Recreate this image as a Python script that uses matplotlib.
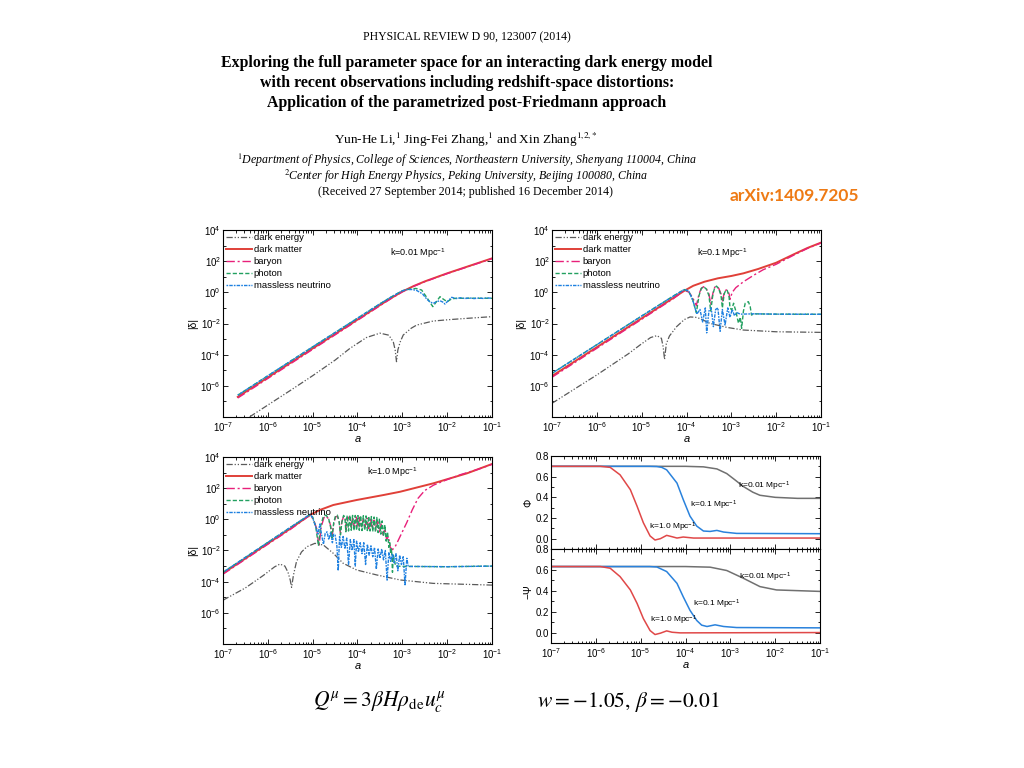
import numpy as np
import matplotlib
matplotlib.use("Agg")
import matplotlib.pyplot as plt
from matplotlib.ticker import FixedLocator, LogLocator, LogFormatterSciNotation, NullFormatter, MultipleLocator

plt.rcParams['font.family'] = ['Liberation Sans', 'DejaVu Sans']
plt.rcParams['mathtext.fontset'] = 'custom'
plt.rcParams['mathtext.rm'] = 'Liberation Sans'
plt.rcParams['mathtext.it'] = 'Liberation Sans:italic'
plt.rcParams['mathtext.bf'] = 'Liberation Sans:bold'

# ---------------- data (log10 a, log10 |delta|) ----------------
# k = 0.01 Mpc^-1
tl_de_x = [-6.67, -6.4, -5.5, -5.0, -4.5, -4.17, -3.8, -3.5, -3.3, -3.2, -3.16, -3.13, -3.1, -3.05, -2.98, -2.8, -2.68, -2.31, -1.9, -1.56, -1.0]
tl_de_y = [-8.5, -7.98, -6.3, -5.35, -4.35, -3.6, -2.9, -2.62, -2.75, -3.2, -3.7, -4.45, -3.7, -3.2, -2.74, -2.3, -2.1, -1.84, -1.74, -1.67, -1.56]
tl_dm_x = [-6.67, -5.0, -4.0, -3.5, -3.25, -3.0, -2.75, -2.5, -2.0, -1.5, -1.0]
tl_dm_y = [-6.71, -3.6, -1.75, -0.82, -0.37, 0.05, 0.4, 0.7, 1.22, 1.7, 2.18]
tl_ba_x = [-6.67, -5.0, -4.0, -3.5, -3.25, -3.0, -2.75, -2.5, -2.0, -1.5, -1.0]
tl_ba_y = [-6.78, -3.66, -1.8, -0.86, -0.4, 0.03, 0.38, 0.68, 1.2, 1.68, 2.16]
tl_ph_x = [-6.67, -5.0, -4.0, -3.5, -3.25, -3.0, -2.85, -2.7, -2.57, -2.45, -2.32, -2.24, -2.16, -2.08, -2.0, -1.9, -1.8, -1.5, -1.0]
tl_ph_y = [-6.6, -3.5, -1.66, -0.74, -0.3, 0.1, 0.2, 0.25, 0.15, -0.35, -0.92, -0.6, -0.28, -0.45, -0.6, -0.42, -0.38, -0.38, -0.38]
tl_nu_x = [-6.67, -5.0, -4.0, -3.5, -3.25, -3.0, -2.9, -2.78, -2.68, -2.55, -2.45, -2.38, -2.31, -2.24, -2.16, -2.1, -2.05, -1.98, -1.9, -1.8, -1.7, -1.6, -1.5, -1.4, -1.3, -1.2, -1.1, -1.0]
tl_nu_y = [-6.6, -3.5, -1.66, -0.74, -0.3, 0.1, 0.18, 0.18, 0.12, -0.1, -0.45, -0.62, -0.71, -0.6, -0.54, -0.62, -0.75, -0.55, -0.32, -0.4, -0.35, -0.4, -0.36, -0.4, -0.37, -0.39, -0.36, -0.38]

# k = 0.1 Mpc^-1
tr_de_x = [-7.0, -6.0, -5.3, -5.0, -4.8, -4.66, -4.56, -4.52, -4.49, -4.45, -4.38, -4.22, -4.05, -3.92, -3.8, -3.7, -3.48, -3.1, -2.73, -2.0, -1.0]
tr_de_y = [-7.12, -5.3, -3.95, -3.3, -2.9, -2.78, -2.95, -3.5, -4.3, -3.3, -2.8, -2.2, -1.75, -1.58, -1.6, -1.68, -1.99, -2.25, -2.42, -2.53, -2.57]
tr_dm_x = [-7.0, -5.0, -4.3, -4.05, -3.85, -3.6, -3.3, -3.0, -2.73, -2.4, -2.0, -1.6, -1.3, -1.0]
tr_dm_y = [-5.37, -1.67, -0.37, 0.1, 0.42, 0.68, 0.9, 1.05, 1.22, 1.5, 1.9, 2.45, 2.85, 3.19]
tr_ba_x = [-7.0, -5.0, -4.3, -4.05, -3.95, -3.87, -3.78, -3.72, -3.67, -3.62, -3.56, -3.5, -3.46, -3.41, -3.37, -3.33, -3.28, -3.23, -3.2, -3.16, -3.12, -3.09, -3.05, -3.03, -2.98, -2.9, -2.73, -2.5, -2.29, -2.0, -1.6, -1.3, -1.0]
tr_ba_y = [-5.45, -1.73, -0.42, 0.12, 0.02, -0.3, -0.85, -0.1, 0.25, 0.36, 0.25, -0.1, -0.75, -0.05, 0.33, 0.4, 0.25, -0.1, -0.6, -0.05, 0.15, 0.15, -0.1, -0.45, 0.0, 0.3, 0.68, 1.1, 1.45, 1.8, 2.4, 2.82, 3.17]
tr_ph_x = [-7.0, -5.0, -4.3, -4.05, -3.95, -3.87, -3.78, -3.72, -3.67, -3.62, -3.56, -3.5, -3.46, -3.41, -3.37, -3.33, -3.28, -3.23, -3.2, -3.16, -3.12, -3.09, -3.05, -3.03, -2.99, -2.95, -2.9, -2.84, -2.8, -2.77, -2.73, -2.69, -2.62, -2.58, -2.55, -2.5, -2.0, -1.0]
tr_ph_y = [-5.2, -1.52, -0.25, 0.18, 0.05, -0.4, -1.3, -0.2, 0.25, 0.36, 0.22, -0.2, -1.2, -0.1, 0.3, 0.4, 0.22, -0.2, -1.0, -0.1, 0.15, 0.12, -0.3, -1.0, -1.13, -0.7, -1.2, -1.99, -1.6, -2.31, -1.2, -0.7, -0.6, -0.9, -1.46, -1.38, -1.4, -1.41]
tr_nu_x = [-7.0, -5.0, -4.3, -4.05, -3.95, -3.85, -3.77, -3.7, -3.64, -3.58, -3.55, -3.5, -3.45, -3.4, -3.35, -3.3, -3.25, -3.2, -3.14, -3.08, -3.03, -2.98, -2.93, -2.88, -2.8, -2.5, -2.0, -1.0]
tr_nu_y = [-5.2, -1.52, -0.25, 0.18, 0.1, -0.6, -1.4, -1.1, -1.9, -1.0, -2.6, -1.2, -1.0, -2.2, -1.1, -1.0, -2.5, -1.1, -2.1, -1.0, -1.6, -1.1, -1.5, -1.3, -1.4, -1.38, -1.4, -1.41]

# k = 1.0 Mpc^-1
bl_de_x = [-7.0, -6.5, -6.1, -5.85, -5.73, -5.62, -5.55, -5.5, -5.47, -5.43, -5.36, -5.25, -5.13, -4.95, -4.76, -4.54, -4.32, -4.02, -3.57, -3.05, -2.31, -1.0]
bl_de_y = [-5.19, -4.4, -3.6, -3.05, -2.87, -3.0, -3.4, -3.9, -4.37, -3.6, -2.7, -2.1, -1.76, -1.54, -1.65, -2.18, -2.82, -3.25, -3.57, -3.89, -4.11, -4.22]
bl_dm_x = [-7.0, -6.0, -5.5, -5.06, -4.84, -4.54, -4.02, -3.42, -3.05, -2.31, -1.56, -1.0]
bl_dm_y = [-3.47, -1.55, -0.6, 0.28, 0.6, 0.92, 1.24, 1.56, 1.77, 2.31, 2.95, 3.55]
bl_ba_x = [-7.0, -6.0, -5.5, -5.1, -5.03, -4.97, -4.91, -4.86, -4.81, -4.75, -4.7, -4.65, -4.6, -4.57, -4.53, -4.49, -4.45, -4.41, -4.38, -4.35, -4.31, -4.27, -4.25, -4.22, -4.18, -4.14, -4.11, -4.07, -4.03, -3.99, -3.95, -3.91, -3.87, -3.83, -3.79, -3.75, -3.71, -3.67, -3.63, -3.59, -3.55, -3.51, -3.47, -3.43, -3.39, -3.35, -3.31, -3.27, -3.22, -3.15, -3.05, -2.9, -2.78, -2.65, -2.5, -2.3, -2.0, -1.7, -1.3, -1.0]
bl_ba_y = [-3.52, -1.6, -0.65, 0.18, 0.2, -0.1, -0.6, -1.75, -0.5, 0.1, 0.2, 0.05, -0.4, -1.1, -0.3, 0.15, 0.2, -0.1, -0.9, -0.15, 0.18, 0.05, -0.7, 0.0, 0.18, -0.5, 0.15, -0.55, 0.15, -0.5, 0.12, -0.55, 0.1, -0.5, 0.08, -0.6, 0.0, -0.6, -0.05, -0.7, -0.15, -0.8, -0.3, -1.0, -0.6, -1.3, -1.1, -1.8, -1.95, -1.7, -1.1, -0.2, 0.6, 1.35, 1.85, 2.2, 2.55, 2.87, 3.22, 3.53]
bl_ph_x = [-7.0, -6.0, -5.5, -5.06, -5.0, -4.93, -4.87, -4.82, -4.76, -4.7, -4.64, -4.6, -4.57, -4.53, -4.49, -4.45, -4.41, -4.38, -4.35, -4.31, -4.28,
           -4.26, -4.23, -4.2, -4.17, -4.14, -4.11, -4.08, -4.05, -4.02, -3.99, -3.96, -3.93, -3.9, -3.87, -3.84, -3.81, -3.78, -3.75, -3.72, -3.69,
           -3.66, -3.63, -3.6, -3.57, -3.54, -3.51, -3.48, -3.45, -3.42, -3.39, -3.36, -3.33, -3.3, -3.28, -3.26, -3.24, -3.22, -3.2, -3.15, -3.0, -2.0, -1.0]
bl_ph_y = [-3.4, -1.48, -0.52, 0.3, 0.15, -0.5, -1.7, -0.4, 0.2, 0.27, 0.0, -0.5, -1.2, -0.2, 0.22, 0.27, -0.15, -1.0, -0.2, 0.25, 0.1,
           -0.8, 0.25, -0.75, 0.26, -0.7, 0.25, -0.72, 0.25, -0.7, 0.24, -0.7, 0.24, -0.72, 0.23, -0.7, 0.22, -0.72, 0.2, -0.75, 0.18,
           -0.78, 0.15, -0.8, 0.12, -0.85, 0.05, -0.95, -0.1, -1.1, -0.35, -1.4, -0.8, -1.8, -1.5, -2.2, -1.9, -3.4, -2.3, -3.0, -3.02, -3.04, -3.0]
bl_nu_x = [-7.0, -6.0, -5.5, -5.06, -5.0, -4.93, -4.88, -4.84, -4.8, -4.76, -4.72, -4.68, -4.64, -4.6, -4.56, -4.53,
           -4.5, -4.46, -4.43, -4.4, -4.36, -4.32, -4.28, -4.24, -4.2, -4.16, -4.12, -4.08, -4.05, -4.02, -3.98, -3.94, -3.9, -3.86,
           -3.82, -3.78, -3.74, -3.7, -3.66, -3.62, -3.58, -3.54, -3.5, -3.46, -3.42, -3.38, -3.34, -3.3, -3.26, -3.22, -3.18, -3.14,
           -3.1, -3.06, -3.02, -2.98, -2.94, -2.9, -2.87, -2.85, -2.0, -1.0]
bl_nu_y = [-3.4, -1.48, -0.52, 0.32, 0.1, -0.5, -0.95, -0.3, -1.0, -1.6, -0.9, -0.8, -1.3, -0.85, -1.5, -0.95,
           -1.0, -1.7, -3.3, -1.1, -1.8, -1.1, -1.9, -1.2, -2.9, -1.3, -2.0, -1.3, -3.0, -1.4, -2.1, -1.5, -2.2, -1.5,
           -2.9, -1.6, -2.3, -1.7, -2.4, -1.8, -3.2, -1.9, -2.5, -1.9, -2.6, -2.0, -3.9, -2.1, -2.7, -2.2, -2.8, -2.2,
           -3.3, -2.3, -2.9, -2.4, -4.2, -2.5, -3.0, -3.02, -3.04, -3.0]

# Phi and -Psi (log10 a, value)
phi_g_x = [-7.0, -4.0, -3.6, -3.3, -3.08, -2.9, -2.71, -2.5, -2.34, -2.0, -1.5, -1.0]
phi_g_y = [0.70, 0.70, 0.695, 0.675, 0.63, 0.57, 0.505, 0.45, 0.42, 0.40, 0.39, 0.39]
phi_b_x = [-7.0, -4.8, -4.64, -4.53, -4.42, -4.19, -4.05, -3.9, -3.75, -3.6, -3.45, -3.3, -3.15, -2.86, -1.0]
phi_b_y = [0.70, 0.70, 0.698, 0.69, 0.666, 0.538, 0.378, 0.218, 0.122, 0.074, 0.07, 0.08, 0.064, 0.051, 0.048]
phi_r_x = [-7.0, -5.9, -5.68, -5.46, -5.23, -5.08, -4.94, -4.79, -4.68, -4.56, -4.42, -4.3, -4.19, -4.05, -3.82, -1.0]
phi_r_y = [0.70, 0.70, 0.69, 0.618, 0.474, 0.314, 0.154, 0.026, -0.013, 0.0, 0.032, 0.019, 0.006, 0.016, 0.006, 0.006]
psi_g_x = [-7.0, -4.0, -3.45, -3.08, -2.71, -2.34, -1.97, -1.0]
psi_g_y = [0.632, 0.632, 0.626, 0.594, 0.52, 0.44, 0.408, 0.394]
psi_b_x = [-7.0, -4.8, -4.64, -4.42, -4.19, -4.05, -3.9, -3.75, -3.64, -3.52, -3.34, -3.15, -2.86, -1.0]
psi_b_y = [0.632, 0.632, 0.628, 0.584, 0.471, 0.342, 0.213, 0.116, 0.071, 0.058, 0.074, 0.058, 0.048, 0.045]
psi_r_x = [-7.0, -5.9, -5.68, -5.46, -5.23, -5.08, -4.94, -4.79, -4.68, -4.56, -4.42, -4.3, -4.12, -1.0]
psi_r_y = [0.632, 0.632, 0.616, 0.536, 0.408, 0.279, 0.134, 0.019, -0.019, -0.006, 0.016, 0.003, -0.003, 0.0]

legend_labels = ['dark energy', 'dark matter', 'baryon', 'photon', 'massless neutrino']
k_labels = ['k=0.01 Mpc$^{-1}$', 'k=0.1 Mpc$^{-1}$', 'k=1.0 Mpc$^{-1}$']

# ---------------- styles ----------------
C_DE, C_DM, C_BA, C_PH, C_NU = '#5a5a5a', '#e04038', '#e8207a', '#22a060', '#1e80e0'
LS_DE = (0, (5, 1.5, 1, 1.5, 1, 1.5))
LS_BA = (0, (6, 2, 1.5, 2))
LS_PH = (0, (3, 1.5))
LS_NU = (0, (1.2, 0.8, 2.5, 0.8))

W, H = 1024, 768
fig = plt.figure(figsize=(W / 100, H / 100), dpi=100)
fig.patch.set_facecolor('white')


def rect(x0, y0, x1, y1):
    return [x0 / W, 1 - y1 / H, (x1 - x0) / W, (y1 - y0) / H]


def ftext(x, y, s, **kw):
    return fig.text(x / W, 1 - y / H, s, **kw)


def p10(v):
    return np.power(10.0, np.asarray(v, dtype=float))


def style_axis(ax):
    ax.tick_params(which='both', direction='in', top=True, right=True, labelsize=7, pad=2, width=0.6)
    ax.tick_params(axis='y', which='both', pad=1.5)
    ax.tick_params(which='major', length=3.5)
    ax.tick_params(which='minor', length=1.8)
    for sp in ax.spines.values():
        sp.set_linewidth(0.8)


def delta_panel(rc, series, klabel, kpos, ylabel_x):
    ax = fig.add_axes(rect(*rc))
    de, dm, ba, ph, nu = series
    ax.plot(p10(de[0]), p10(de[1]), color=C_DE, lw=0.9, ls=LS_DE, label=legend_labels[0])
    ax.plot(p10(dm[0]), p10(dm[1]), color=C_DM, lw=1.4, ls='-', label=legend_labels[1])
    ax.plot(p10(ba[0]), p10(ba[1]), color=C_BA, lw=1.0, ls=LS_BA, label=legend_labels[2])
    ax.plot(p10(ph[0]), p10(ph[1]), color=C_PH, lw=1.0, ls=LS_PH, label=legend_labels[3])
    ax.plot(p10(nu[0]), p10(nu[1]), color=C_NU, lw=1.0, ls=LS_NU, label=legend_labels[4])
    ax.set_xscale('log')
    ax.set_yscale('log')
    ax.set_xlim(1e-7, 1e-1)
    ax.set_ylim(1e-8, 1e4)
    ax.xaxis.set_major_locator(FixedLocator(p10(np.arange(-7, 0))))
    ax.xaxis.set_minor_locator(LogLocator(base=10, subs=np.arange(2, 10), numticks=20))
    ax.xaxis.set_major_formatter(LogFormatterSciNotation())
    ax.xaxis.set_minor_formatter(NullFormatter())
    ax.yaxis.set_major_locator(FixedLocator(p10(np.arange(-6, 5, 2))))
    ax.yaxis.set_minor_locator(FixedLocator(p10(np.arange(-8, 5, 1))))
    ax.yaxis.set_major_formatter(LogFormatterSciNotation())
    ax.yaxis.set_minor_formatter(NullFormatter())
    style_axis(ax)
    ax.set_xlabel('$a$', fontsize=8, labelpad=0)
    ax.legend(loc='upper left', frameon=False, fontsize=6.8, handlelength=2.8, handletextpad=0.15,
              labelspacing=0.32, borderaxespad=0.15, borderpad=0.15)
    ax.text(kpos[0], kpos[1], klabel, transform=ax.transAxes, fontsize=6.5, ha='left', va='center')
    ftext(ylabel_x, (rc[1] + rc[3]) / 2, '|δ|', rotation=90, fontsize=7.5, ha='center', va='center')
    return ax


delta_panel((223, 230, 492, 417),
            [(tl_de_x, tl_de_y), (tl_dm_x, tl_dm_y), (tl_ba_x, tl_ba_y), (tl_ph_x, tl_ph_y), (tl_nu_x, tl_nu_y)],
            k_labels[0], (0.62, 0.875), 193)
delta_panel((552, 230, 821, 417),
            [(tr_de_x, tr_de_y), (tr_dm_x, tr_dm_y), (tr_ba_x, tr_ba_y), (tr_ph_x, tr_ph_y), (tr_nu_x, tr_nu_y)],
            k_labels[1], (0.54, 0.875), 521)
delta_panel((223, 457, 492, 644),
            [(bl_de_x, bl_de_y), (bl_dm_x, bl_dm_y), (bl_ba_x, bl_ba_y), (bl_ph_x, bl_ph_y), (bl_nu_x, bl_nu_y)],
            k_labels[2], (0.535, 0.92), 193)

# Phi / -Psi panels
C_G, C_B, C_R = '#707070', '#2a82dc', '#e04848'
ax_phi = fig.add_axes(rect(551, 456, 820, 549))
ax_psi = fig.add_axes(rect(551, 549, 820, 643), sharex=ax_phi)
for ax, g, b, r in [(ax_phi, (phi_g_x, phi_g_y), (phi_b_x, phi_b_y), (phi_r_x, phi_r_y)),
                    (ax_psi, (psi_g_x, psi_g_y), (psi_b_x, psi_b_y), (psi_r_x, psi_r_y))]:
    ax.plot(p10(g[0]), g[1], color=C_G, lw=1.1)
    ax.plot(p10(b[0]), b[1], color=C_B, lw=1.1)
    ax.plot(p10(r[0]), r[1], color=C_R, lw=1.1)
    ax.set_xscale('log')
    ax.set_xlim(1e-7, 1e-1)
    ax.set_ylim(-0.1, 0.8)
    ax.yaxis.set_major_locator(MultipleLocator(0.2))
    ax.yaxis.set_minor_locator(MultipleLocator(0.1))
    ax.yaxis.set_major_formatter(matplotlib.ticker.FormatStrFormatter('%.1f'))
    ax.xaxis.set_major_locator(FixedLocator(p10(np.arange(-7, 0))))
    ax.xaxis.set_minor_locator(LogLocator(base=10, subs=np.arange(2, 10), numticks=20))
    ax.xaxis.set_major_formatter(LogFormatterSciNotation())
    ax.xaxis.set_minor_formatter(NullFormatter())
    style_axis(ax)
ax_phi.tick_params(labelbottom=False)
ax_psi.set_xlabel('$a$', fontsize=8, labelpad=0)
ftext(528, 503, 'Φ', rotation=90, fontsize=7.5, ha='center', va='center')
ftext(528, 592, '−Ψ', rotation=90, fontsize=7.5, ha='center', va='center')
ftext(738, 486, k_labels[0], fontsize=6, ha='left', va='center')
ftext(690, 505, k_labels[1], fontsize=6, ha='left', va='center')
ftext(649, 527, k_labels[2], fontsize=6, ha='left', va='center')
ftext(739, 577, k_labels[0], fontsize=6, ha='left', va='center')
ftext(693, 604, k_labels[1], fontsize=6, ha='left', va='center')
ftext(650, 620, k_labels[2], fontsize=6, ha='left', va='center')

# ---------------- header texts ----------------
SERIF = ['Liberation Serif', 'DejaVu Serif']
ftext(467, 37, 'PHYSICAL REVIEW D 90, 123007 (2014)', family=SERIF, fontsize=8.5, ha='center', va='center')
title_lines = ['Exploring the full parameter space for an interacting dark energy model',
               'with recent observations including redshift-space distortions:',
               'Application of the parametrized post-Friedmann approach']
for yy, line in zip([63, 83, 103], title_lines):
    ftext(467, yy, line, family=SERIF, fontsize=11.4, weight='bold', ha='center', va='center')
ftext(466, 140, r'Yun-He Li,$^{1}$ Jing-Fei Zhang,$^{1}$ and Xin Zhang$^{1{,}2{,}*}$', family=SERIF,
      fontsize=9.5, ha='center', va='center', math_fontfamily='stix')
ftext(467, 160, r'$^{1}$Department of Physics, College of Sciences, Northeastern University, Shenyang 110004, China',
      family=SERIF, style='italic', fontsize=8.6, ha='center', va='center', math_fontfamily='stix')
ftext(466, 176, r'$^{2}$Center for High Energy Physics, Peking University, Beijing 100080, China',
      family=SERIF, style='italic', fontsize=8.6, ha='center', va='center', math_fontfamily='stix')
ftext(466, 192, '(Received 27 September 2014; published 16 December 2014)', family=SERIF,
      fontsize=8.6, ha='center', va='center')
ftext(730, 196, 'arXiv:1409.7205', family=['Lato', 'DejaVu Sans'], weight='bold', fontsize=12.5,
      color='#ee7a14', ha='left', va='center')

ftext(313, 702, r'$Q^{\mu} = 3\beta H\rho_{\rm de}u_c^{\mu}$', fontsize=15.5, ha='left', va='center',
      math_fontfamily='stix')
ftext(537, 702, r'$w = -1.05,\, \beta = -0.01$', fontsize=15.5, ha='left', va='center', math_fontfamily='stix')

fig.savefig('out.png', dpi=100, facecolor='white')
